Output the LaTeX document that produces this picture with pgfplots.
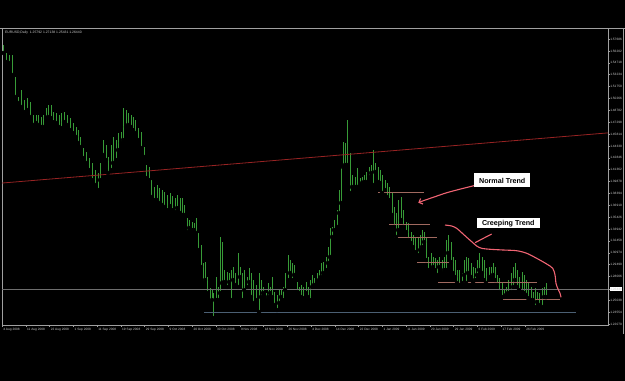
\documentclass[border=0pt]{standalone}
\usepackage{pgfplots}
\pgfplotsset{compat=1.18}
\usepackage{pgfplotstable}
\usepackage{fontspec}
\setmainfont{Liberation Sans}
\usetikzlibrary{arrows.meta}
\definecolor{bargreen}{RGB}{55,155,55}
\definecolor{framegray}{RGB}{160,160,160}
\definecolor{labgray}{RGB}{205,205,205}
\definecolor{trendred}{RGB}{150,35,35}
\definecolor{bidgray}{RGB}{110,110,110}
\definecolor{lowblue}{RGB}{75,95,115}
\definecolor{salmonline}{RGB}{160,105,95}
\definecolor{penpink}{RGB}{240,100,115}

\pgfplotstableread{
x h l
3 1.5695 1.5595
6 1.5595 1.5482
9 1.5570 1.5470
12 1.5570 1.5320
15 1.5295 1.5045
18 1.5045 1.4970
21 1.5132 1.4920
24 1.5007 1.4857
27 1.5032 1.4882
30 1.4982 1.4795
33 1.4820 1.4695
36 1.4820 1.4720
38 1.4820 1.4695
41 1.4795 1.4670
43 1.4820 1.4670
46 1.4907 1.4782
48 1.4945 1.4795
51 1.4945 1.4782
53 1.4857 1.4732
56 1.4845 1.4720
59 1.4820 1.4670
61 1.4845 1.4657
64 1.4857 1.4732
67 1.4820 1.4695
70 1.4782 1.4632
73 1.4720 1.4595
76 1.4670 1.4545
78 1.4632 1.4470
80 1.4545 1.4420
83 1.4407 1.4282
86 1.4357 1.4220
89 1.4282 1.4132
92 1.4220 1.4007
95 1.4132 1.3945
98 1.4095 1.3882
100 1.4220 1.4007
103 1.4507 1.4320
106 1.4445 1.4257
108 1.4295 1.4095
111 1.4445 1.4132
113 1.4545 1.4220
116 1.4507 1.4257
118 1.4595 1.4382
121 1.4607 1.4470
123 1.4907 1.4507
126 1.4882 1.4670
128 1.4845 1.4695
131 1.4820 1.4670
133 1.4795 1.4632
135 1.4757 1.4595
138 1.4657 1.4507
141 1.4607 1.4407
144 1.4420 1.4295
146 1.4195 1.4032
149 1.4170 1.4007
151 1.4007 1.3795
154 1.3920 1.3757
157 1.3945 1.3757
159 1.3907 1.3720
162 1.3882 1.3695
164 1.3857 1.3670
167 1.3820 1.3632
170 1.3845 1.3682
172 1.3807 1.3632
175 1.3782 1.3607
177 1.3820 1.3657
180 1.3782 1.3595
182 1.3782 1.3570
184 1.3695 1.3570
187 1.3532 1.3357
189 1.3507 1.3407
192 1.3482 1.3382
194 1.3470 1.3382
196 1.3532 1.3345
198 1.3345 1.3132
201 1.3195 1.2920
203 1.2970 1.2720
205 1.2982 1.2757
207 1.2795 1.2595
210 1.2657 1.2470
212 1.2632 1.2507
213 1.2595 1.2282
216 1.2795 1.2507
218 1.2670 1.2507
220 1.3295 1.2595
222 1.3232 1.2720
224 1.2882 1.2732
227 1.2857 1.2670
229 1.2845 1.2732
231 1.2882 1.2507
233 1.2920 1.2757
235 1.2845 1.2695
238 1.3095 1.2670
240 1.2920 1.2795
242 1.2845 1.2507
244 1.2882 1.2632
247 1.2795 1.2670
249 1.2907 1.2732
251 1.2845 1.2545
253 1.2757 1.2470
256 1.2695 1.2507
259 1.2845 1.2357
261 1.2757 1.2545
263 1.2670 1.2595
266 1.2595 1.2507
268 1.2720 1.2545
270 1.2670 1.2595
272 1.2795 1.2545
274 1.2607 1.2445
277 1.2570 1.2382
279 1.2632 1.2470
281 1.2632 1.2545
283 1.2670 1.2507
285 1.2845 1.2632
288 1.3070 1.2757
290 1.3007 1.2845
292 1.2970 1.2757
294 1.2945 1.2820
297 1.2732 1.2607
299 1.2670 1.2595
301 1.2695 1.2545
303 1.2670 1.2532
306 1.2732 1.2595
308 1.2670 1.2545
310 1.2757 1.2507
312 1.2820 1.2670
314 1.2782 1.2695
317 1.2845 1.2732
319 1.2882 1.2757
321 1.2970 1.2795
323 1.2982 1.2845
326 1.3045 1.2882
328 1.3170 1.2970
330 1.3407 1.3045
332 1.3420 1.3295
334 1.3507 1.3382
337 1.3632 1.3420
339 1.3882 1.3595
341 1.4170 1.3720
343 1.4482 1.4170
345 1.4470 1.4195
347 1.4757 1.4195
350 1.4345 1.3845
352 1.4070 1.3920
355 1.4045 1.3920
357 1.4157 1.3920
360 1.4032 1.3945
362 1.4045 1.3970
364 1.4070 1.3982
366 1.4107 1.3982
369 1.4170 1.4045
371 1.4195 1.4095
373 1.4382 1.3945
375 1.4220 1.4107
378 1.4170 1.3982
380 1.4132 1.3970
382 1.4070 1.3845
385 1.4007 1.3882
387 1.3970 1.3795
389 1.3920 1.3757
392 1.3857 1.3570
394 1.3670 1.3420
396 1.3595 1.3295
398 1.3757 1.3382
401 1.3795 1.3507
403 1.3632 1.3420
406 1.3482 1.3357
408 1.3470 1.3257
411 1.3357 1.3220
413 1.3320 1.3170
415 1.3295 1.3107
418 1.3282 1.3070
420 1.3320 1.3132
422 1.3382 1.3170
424 1.3357 1.3232
426 1.3295 1.3007
428 1.3045 1.2882
431 1.3095 1.2882
433 1.3045 1.2920
435 1.3032 1.2882
437 1.3007 1.2820
439 1.3045 1.2920
442 1.3007 1.2845
444 1.3045 1.2882
446 1.3257 1.2882
448 1.3320 1.3095
451 1.3232 1.2982
453 1.3045 1.2845
455 1.3007 1.2795
457 1.2882 1.2720
459 1.2882 1.2695
462 1.2845 1.2720
464 1.3007 1.2820
466 1.3045 1.2720
468 1.3032 1.2845
471 1.2970 1.2795
473 1.2920 1.2720
475 1.2907 1.2757
477 1.3007 1.2820
479 1.3095 1.2882
482 1.3045 1.2845
484 1.3007 1.2757
486 1.2907 1.2720
489 1.2920 1.2795
491 1.2920 1.2782
493 1.2970 1.2820
495 1.2920 1.2757
497 1.2820 1.2695
499 1.2782 1.2607
502 1.2732 1.2545
504 1.2632 1.2545
506 1.2670 1.2570
508 1.2757 1.2595
511 1.2845 1.2607
513 1.2920 1.2670
515 1.2970 1.2757
517 1.2882 1.2670
519 1.2795 1.2632
522 1.2857 1.2607
524 1.2820 1.2595
526 1.2757 1.2570
528 1.2720 1.2532
531 1.2670 1.2507
533 1.2607 1.2507
535 1.2657 1.2420
537 1.2607 1.2482
539 1.2595 1.2445
542 1.2657 1.2420
544 1.2670 1.2545
546 1.2714 1.2543
}\bars

\begin{document}
\begin{tikzpicture}
\path[use as bounding box] (0,0) rectangle (625bp,-381bp);
\fill[black] (0,0) rectangle (625bp,-381bp);
\draw[framegray, line width=0.6bp] (0,-28.5bp) -- (625bp,-28.5bp);
\draw[framegray, line width=0.6bp] (623bp,-28.5bp) -- (623bp,-334bp);
\begin{axis}[
  at={(2bp,-28.5bp)}, anchor=north west,
  scale only axis, width=606bp, height=296.5bp,
  xmin=2, xmax=608, ymin=1.219450, ymax=1.590075,
  axis line style={framegray, line width=0.6bp},
  ytick pos=right, yticklabel pos=right, xtick pos=bottom,
  tick align=outside, major tick length=1.5bp,
  tick style={framegray, line width=0.4bp},
  ytick={1.22070,1.23554,1.25038,1.28006,1.29490,1.30974,1.32458,1.33942,1.35426,1.36910,1.38394,1.39878,1.41362,1.42846,1.44330,1.45814,1.47298,1.48782,1.50266,1.51750,1.53234,1.54718,1.56202,1.57686},
  yticklabels={1.22070,1.23554,1.25038,1.28006,1.29490,1.30974,1.32458,1.33942,1.35426,1.36910,1.38394,1.39878,1.41362,1.42846,1.44330,1.45814,1.47298,1.48782,1.50266,1.51750,1.53234,1.54718,1.56202,1.57686},
  yticklabel style={font=\fontsize{3.2}{3.6}\selectfont, text=labgray, anchor=west, inner sep=0.6bp},
  extra y ticks={1.2644}, extra y tick labels={1.26440},
  extra y tick style={tick label style={fill=white, text=black}},
  xtick={2,25.8,49.5,73.3,97.1,120.9,144.6,168.4,192.2,215.9,239.7,263.5,287.2,311,334.8,358.6,382.3,406.1,429.9,453.6,477.4,501.2,525},
  xticklabels={4 Aug 2008,11 Aug 2008,22 Aug 2008,1 Sep 2008,11 Sep 2008,19 Sep 2008,29 Sep 2008,9 Oct 2008,20 Oct 2008,30 Oct 2008,9 Nov 2008,18 Nov 2008,26 Nov 2008,4 Dec 2008,14 Dec 2008,22 Dec 2008,1 Jan 2009,11 Jan 2009,20 Jan 2009,29 Jan 2009,6 Feb 2009,17 Feb 2009,26 Feb 2009},
  xticklabel style={font=\fontsize{3.2}{3.6}\selectfont, text=labgray, anchor=north west, inner sep=0.6bp, xshift=0.5bp, yshift=-0.8bp},
  clip=true,
]
\addplot[only marks, mark=none, forget plot,
  error bars/.cd, y dir=plus, y explicit, error mark=none,
  error bar style={bargreen, line width=0.85bp}]
  table[x=x, y=l, y error plus expr={\thisrow{h}-\thisrow{l}}] {\bars};
\addplot[trendred, line width=0.8bp] coordinates {(2,1.3969) (608,1.4596)};
\addplot[bidgray, line width=0.7bp] coordinates {(2,1.2644) (608,1.2644)};
\addplot[lowblue, line width=0.7bp] coordinates {(204,1.2357) (576,1.2357)};
\addplot[salmonline, line width=0.6bp] coordinates {(378,1.3857) (424,1.3857)};
\addplot[salmonline, line width=0.6bp] coordinates {(389,1.3457) (430,1.3457)};
\addplot[salmonline, line width=0.6bp] coordinates {(394,1.3295) (437,1.3295)};
\addplot[salmonline, line width=0.6bp] coordinates {(417,1.2982) (453,1.2982)};
\addplot[salmonline, line width=0.6bp] coordinates {(438,1.2732) (537,1.2732)};
\addplot[salmonline, line width=0.6bp] coordinates {(503,1.2520) (560,1.2520)};
\addplot[penpink, line width=1.1bp, smooth] coordinates {
  (445,1.3444) (451.7,1.3432) (456.7,1.3403) (461.7,1.3348) (466.7,1.3291)
  (471.7,1.3236) (476.7,1.3182) (481.7,1.3153) (490,1.3141) (503.3,1.3132)
  (516.7,1.3123) (526.7,1.3091) (536.7,1.3028) (546.7,1.2957) (552.7,1.2903)
  (555,1.2820) (556,1.2716) (557.7,1.2653) (560,1.2591) (561,1.2541)};
\addplot[penpink, line width=1.1bp, smooth, -{Straight Barb[length=3bp, width=6bp]}] coordinates {
  (476.7,1.3945) (463.3,1.3903) (446.7,1.3848) (433.3,1.3791) (423.3,1.3748) (418.3,1.3723)};
\addplot[penpink, line width=1.1bp, smooth] coordinates {
  (491.7,1.3332) (484,1.3282) (475,1.3223)};
\node[fill=white, text=black, font=\fontsize{7.2}{8}\selectfont\bfseries, inner sep=0pt, minimum width=56bp, minimum height=14bp] at (axis cs:502.2,1.4001) {Normal Trend};
\node[fill=white, text=black, font=\fontsize{7.2}{8}\selectfont\bfseries, inner sep=0pt, minimum width=63bp, minimum height=10bp] at (axis cs:508.3,1.3466) {Creeping Trend};
\node[anchor=north west, text=labgray, font=\fontsize{3.4}{4}\selectfont, inner sep=0pt] at (axis description cs:0,1) [xshift=3bp, yshift=-2bp] {EURUSD,Daily\ \ 1.25792 1.27138 1.25431 1.26440};
\end{axis}
\end{tikzpicture}
\end{document}
